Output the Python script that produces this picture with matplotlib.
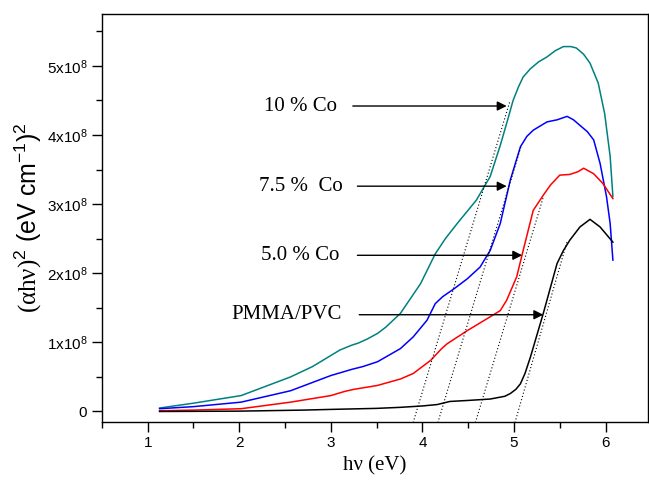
import numpy as np
import matplotlib
matplotlib.use("Agg")
import matplotlib.pyplot as plt
from matplotlib.ticker import MultipleLocator, FuncFormatter

plt.rcParams['font.family'] = ['Liberation Sans', 'DejaVu Sans']
plt.rcParams['mathtext.fontset'] = 'custom'
plt.rcParams['mathtext.rm'] = 'Liberation Serif'
plt.rcParams['mathtext.sf'] = 'Liberation Sans'
plt.rcParams['mathtext.default'] = 'regular'

# (alpha h nu)^2 in units of 1e8
x_co10 = [1.13, 1.5, 2.02, 2.56, 2.8, 3.0, 3.1, 3.23, 3.3, 3.4, 3.51, 3.6, 3.76, 3.98, 4.14,
          4.25, 4.38, 4.59, 4.74, 4.85, 4.92, 4.99, 5.05, 5.10, 5.18, 5.27, 5.36, 5.45, 5.54,
          5.62, 5.68, 5.76, 5.83, 5.92, 5.99, 6.05, 6.08]
y_co10 = [0.05, 0.12, 0.23, 0.50, 0.65, 0.81, 0.89, 0.96, 0.99, 1.05, 1.13, 1.22, 1.42, 1.85, 2.28,
          2.50, 2.72, 3.06, 3.40, 3.85, 4.17, 4.50, 4.70, 4.84, 4.96, 5.06, 5.13, 5.22, 5.28,
          5.28, 5.26, 5.17, 5.04, 4.75, 4.31, 3.69, 3.11]

x_co75 = [1.13, 1.5, 2.02, 2.56, 3.0, 3.23, 3.35, 3.51, 3.76, 3.9, 4.05, 4.14, 4.22, 4.35, 4.49,
          4.63, 4.74, 4.85, 4.96, 5.07, 5.14, 5.21, 5.36, 5.47, 5.58, 5.65, 5.72, 5.80,
          5.87, 5.94, 6.01, 6.05, 6.08]
y_co75 = [0.04, 0.07, 0.135, 0.30, 0.52, 0.61, 0.65, 0.72, 0.91, 1.08, 1.32, 1.56, 1.66, 1.78, 1.92,
          2.09, 2.33, 2.72, 3.35, 3.83, 3.98, 4.07, 4.19, 4.22, 4.27, 4.22, 4.14, 4.05,
          3.93, 3.59, 3.11, 2.72, 2.19]

x_co50 = [1.13, 1.5, 2.02, 2.56, 3.0, 3.15, 3.25, 3.51, 3.76, 3.90, 4.09, 4.21, 4.27, 4.49, 4.74,
          4.85, 4.92, 5.03, 5.10, 5.21, 5.32, 5.40, 5.50, 5.61, 5.70, 5.76, 5.87, 5.97, 6.08]
y_co50 = [0.01, 0.02, 0.04, 0.135, 0.23, 0.29, 0.32, 0.377, 0.47, 0.55, 0.74, 0.91, 0.98, 1.17, 1.37,
          1.46, 1.61, 1.95, 2.33, 2.91, 3.13, 3.28, 3.42, 3.43, 3.47, 3.52, 3.44, 3.30, 3.08]

x_pure = [1.13, 2.0, 2.7, 3.0, 3.5, 3.76, 4.0, 4.16, 4.30, 4.5, 4.74, 4.90, 4.96, 5.02, 5.07,
          5.12, 5.18, 5.32, 5.47, 5.54, 5.61, 5.72, 5.83, 5.94, 6.08]
y_pure = [0.0, 0.005, 0.02, 0.03, 0.045, 0.06, 0.08, 0.10, 0.145, 0.16, 0.18, 0.22, 0.26, 0.32, 0.40,
          0.55, 0.79, 1.42, 2.14, 2.33, 2.48, 2.67, 2.78, 2.67, 2.45]

# tangent (Tauc) lines: band gap, slope, top end
gap_eV = [3.935, 4.205, 4.615, 5.045]
slopes = [4.4, 4.4, 4.4, 4.6]
y_top = [4.5, 3.85, 3.1, 2.45]

labels = ['10 % Co', '7.5 %  Co', '5.0 % Co', 'PMMA/PVC']
colors = ['#008080', '#0000ff', '#ff0000', 'black']

fig = plt.figure(figsize=(6.49, 4.86), dpi=100)
ax = fig.add_axes([0.157, 0.132, 0.841, 0.839])

scale = 1e8
for xs, ys, c in zip([x_co10, x_co75, x_co50, x_pure], [y_co10, y_co75, y_co50, y_pure], colors):
    ax.plot(xs, np.array(ys) * scale, color=c, lw=1.1)

for eg, s, yt in zip(gap_eV, slopes, y_top):
    xl = np.array([eg - 0.3 / s, eg + yt / s])
    ax.plot(xl, s * (xl - eg) * scale, color='black', lw=0.8, ls=(0, (1, 2)))

# labels with arrows
text_x = [3.07, 3.135, 3.09, 3.12]
text_y = [4.42, 3.26, 2.26, 1.40]
arrow_start = [3.24, 3.29, 3.29, 3.31]
arrow_tip = [4.92, 4.92, 5.09, 5.32]
for lab, tx, ty, a0, a1 in zip(labels, text_x, text_y, arrow_start, arrow_tip):
    ax.text(tx, ty * scale, lab, ha='right', va='center', fontsize=15,
            family='Liberation Serif')
    ax.annotate('', xy=(a1, ty * scale), xytext=(a0, ty * scale),
                arrowprops=dict(arrowstyle='-|>', color='black', lw=1.0,
                                mutation_scale=14, shrinkA=0, shrinkB=0))

ax.set_xlim(0.5, 6.46)
ax.set_ylim(-0.15e8, 5.75e8)
ax.xaxis.set_major_locator(MultipleLocator(1))
ax.xaxis.set_minor_locator(MultipleLocator(0.5))
ax.yaxis.set_major_locator(MultipleLocator(1e8))
ax.yaxis.set_minor_locator(MultipleLocator(0.5e8))
ax.yaxis.set_major_formatter(FuncFormatter(
    lambda v, p: '0' if abs(v) < 1 else '%dx10$^{8}$' % round(v / 1e8)))
ax.tick_params(which='both', direction='out', top=False, right=False, labelsize=11)
ax.tick_params(which='major', length=7, width=1)
ax.tick_params(which='minor', length=4, width=1)
for sp in ax.spines.values():
    sp.set_linewidth(1.0)

ax.set_xlabel('h\u03bd (eV)', fontsize=15, family='Liberation Serif')
ax.set_ylabel(r'$\mathrm{(\alpha h\nu)}^2$ (eV cm$^{-1}$)$^2$', fontsize=18, labelpad=2)

fig.savefig('out.png', dpi=100)
